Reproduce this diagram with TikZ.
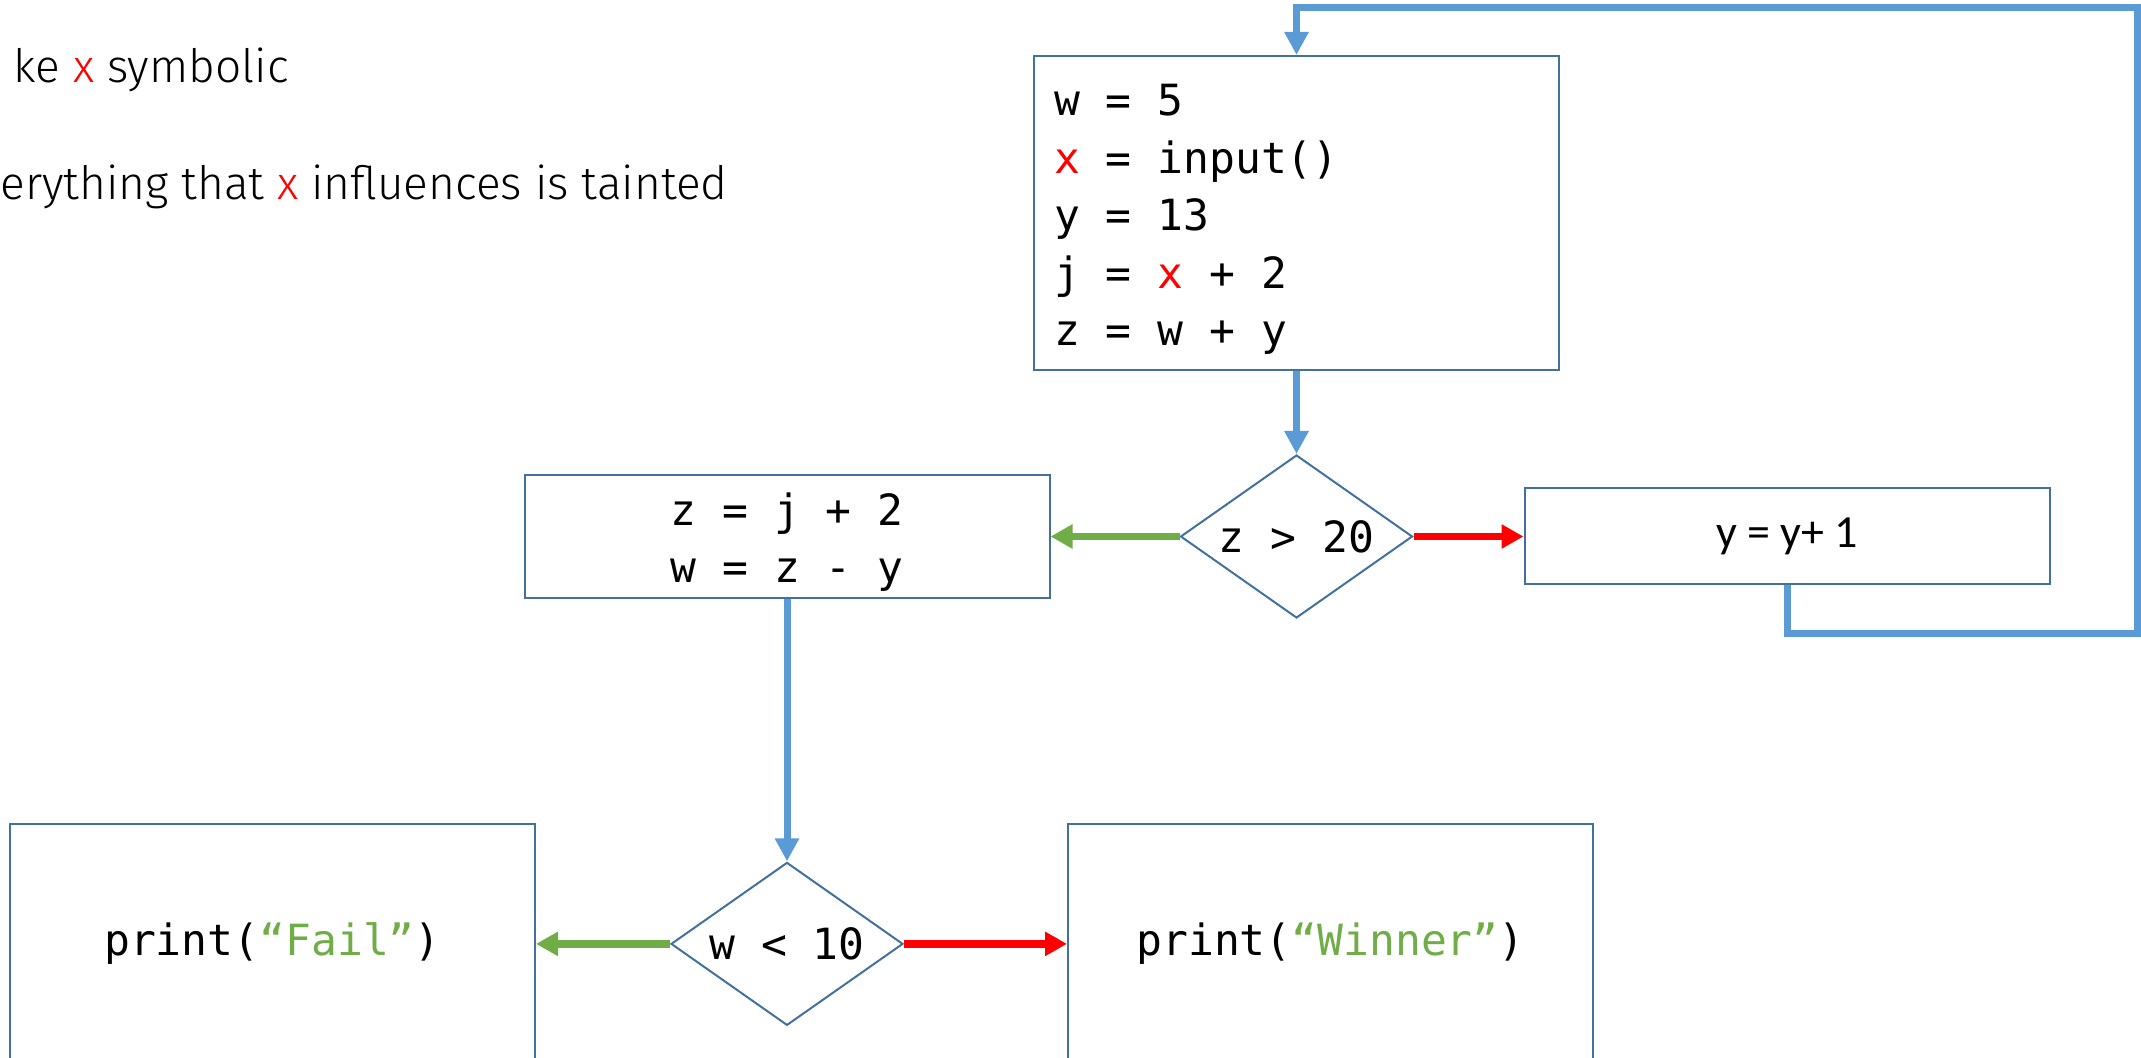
\documentclass[tikz,border=0pt]{standalone}
\usepackage{fontspec}
\setmainfont{Carlito}
\setmonofont{DejaVu Sans Mono}
\newfontfamily\notefont{Fira Sans Light}
\usetikzlibrary{shapes.geometric}
\usetikzlibrary{arrows.meta}
\usetikzlibrary{positioning}
\definecolor{boxblue}{HTML}{41719C}
\definecolor{flowblue}{HTML}{5B9BD5}
\definecolor{okgreen}{HTML}{70AD47}
\newcommand{\tnt}[1]{{\color{red}#1}}
\newcommand{\str}[1]{{\color{okgreen}#1}}
\newcommand{\topline}{\rule{0pt}{22pt}}
\DeclareRobustCommand{\codefont}{\ttfamily\fontsize{21.5pt}{28.75pt}\selectfont
  \fontdimen2\font=12.94pt\relax\fontdimen3\font=0pt\relax\fontdimen4\font=0pt\relax}

\begin{document}
\begin{tikzpicture}[x=0.5pt,y=-0.5pt,
    block/.style={draw=boxblue, line width=1pt, minimum width=262.5pt, font=\codefont, align=center},
    decision/.style={diamond, aspect=1.42, draw=boxblue, line width=1pt, minimum width=116pt, minimum height=81.5pt, inner sep=0pt, font=\codefont},
    flow/.style={draw=flowblue, line width=3.5pt, -{Triangle[length=11.5pt,width=11.5pt]}},
    taken/.style={draw=okgreen, line width=3.75pt, -{Triangle[length=11pt,width=11.5pt]}},
    nottaken/.style={draw=red, line width=3.75pt, -{Triangle[length=11pt,width=11.5pt]}},
    note/.style={inner sep=0pt, font=\notefont\fontsize{23pt}{28pt}\selectfont}]
          \useasboundingbox (0,0) rectangle (2141,1058);
          \clip (0,0) rectangle (2141,1058);

          \node[note, anchor=base east] (n1) at (289,83) {ke \tnt{x} symbolic};
          \node[note, anchor=base west] (n2) at (0,200) {erything that \tnt{x} influences is tainted};

          \node[block, align=left, text width=242.5pt, inner xsep=10pt, minimum height=157pt] (b1) at (1296.5,213)
            {\spaceskip=0pt\relax\topline w = 5\\ \tnt{x} = input()\\ y = 13\\ j = \tnt{x} + 2\\ z = w + y};
          \node[decision, below=41.5pt of b1] (d1) {z > 20};
          \node[block, minimum height=61.5pt, left=64.5pt of d1] (b2) {\topline z = j + 2\\ w = z - y};
          \node[block, minimum height=48pt, font=\fontsize{23pt}{28pt}\selectfont, right=55pt of d1] (b3) {y = y+ 1};
          \node[decision, below=131pt of b2] (d2) {w < 10};
          \node[block, minimum height=120pt, left=67pt of d2] (b4) {print(\str{“Fail”})};
          \node[block, minimum height=120pt, right=81.5pt of d2] (b5) {print(\str{“Winner”})};

          \coordinate (back) at (2137,8);

          \draw[flow] (b1) -- (d1);
          \draw[taken] (d1.west) -- (b2.east);
          \draw[nottaken] (d1.east) -- (b3.west);
          \draw[flow] (b3.south) -- ++(0,48) -| (back) -| (b1.north);
          \draw[flow] (b2) -- (d2);
          \draw[taken] (d2.west) -- (b4.east);
          \draw[nottaken] (d2.east) -- (b5.west);
        \end{tikzpicture}
\end{document}
